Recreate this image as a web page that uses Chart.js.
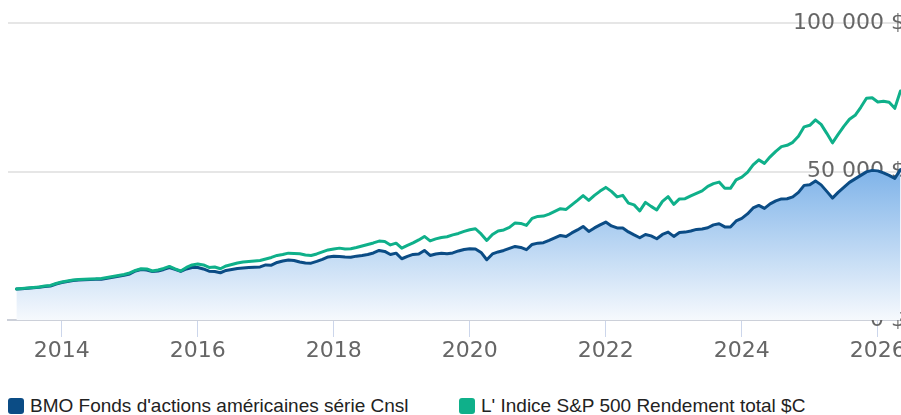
<!DOCTYPE html>
<html><head><meta charset="utf-8">
<script src="https://cdn.jsdelivr.net/npm/chart.js@4.4.1/dist/chart.umd.min.js"></script>
<style>
html,body{margin:0;padding:0;background:#fff;overflow:hidden;width:901px;height:415px;position:relative}
#wrap{position:absolute;left:0;top:0;width:905px;height:385px}
#legend{position:absolute;left:0;top:396px;width:901px;height:19px;font-family:"Liberation Sans",Arial,sans-serif;font-size:19px;color:#222}
.item{position:absolute;top:0;display:flex;align-items:center;white-space:nowrap;line-height:19px}
.sw{width:16px;height:16px;border-radius:3px;margin-right:6px;flex:none}
</style></head><body>
<div id="wrap"><canvas id="c"></canvas></div>
<div id="legend"></div>
<script>
// ---- data ----
const seriesNames = ["BMO Fonds d'actions américaines série Cnsl", "L' Indice S&P 500 Rendement total $C"];
const seriesColors = ["#0b4c85", "#0fb08a"];
const startYear = 2013, startMonth = 4; // month-end values, April 2013 .. April 2026
const bmoValues = [
10450,10550,10680,10850,10990,11290,11460,12130,12640,12980,
13310,13480,13550,13650,13680,13750,14090,14420,14760,15060,
15500,16510,17020,16850,16350,16510,17020,17690,17020,16350,
17190,17690,17690,17190,16450,16350,15910,16680,17020,17360,
17520,17690,17790,17860,18540,18470,19380,19880,20220,20050,
19550,19210,19140,19720,20390,21230,21500,21400,21230,21160,
21500,21740,22070,22580,23420,23090,22070,22510,20620,21400,
22070,22240,23420,21740,22240,22510,22310,22580,23250,23760,
23990,23930,22750,20290,22240,22920,23420,24100,24770,24430,
23660,25440,25880,26020,26790,27630,28480,28140,29320,30330,
31510,29830,31000,32020,32960,31680,31000,31000,29660,28650,
27700,28810,28310,27360,28810,29590,28140,29490,29590,29990,
30500,30670,31070,32020,32420,31340,31340,33360,34210,35720,
37740,38590,37580,39090,40100,40780,40840,41450,42970,45330,
45560,46840,45500,43310,41050,42970,44650,46340,47520,48700,
49880,50380,50210,49540,48700,47690,50620];
const spValues = [
10450,10620,10780,10950,11120,11460,11630,12300,12810,13140,
13480,13650,13720,13820,13880,13990,14320,14660,15000,15330,
15840,16680,17250,17190,16510,16850,17360,18030,17190,16510,
17690,18540,18870,18540,17690,17860,17250,18200,18700,19210,
19550,19720,19880,20050,20560,21060,21740,22070,22510,22410,
22310,21910,21740,22240,22920,23590,23930,24200,23930,23990,
24430,24940,25440,25950,26560,26460,25280,25880,24200,25110,
25950,26960,28140,26620,27300,27800,28040,28650,29150,29830,
30400,30730,28980,26790,28810,29990,30330,31170,32690,32520,
31850,34210,34880,34980,35660,36570,37470,37240,38760,40270,
41860,40270,41960,43410,44650,43310,41450,41960,39360,38760,
36730,39600,38250,37070,39940,41520,38920,40780,40840,41790,
42630,43470,44990,45900,46440,44320,44320,47180,48120,49710,
52240,53920,52740,54930,56790,58370,58810,59820,61840,65040,
65550,67400,65880,62850,59650,62510,65210,67570,68920,71610,
74650,74810,73400,73640,73300,71280,77110];
const xTickYears = [2014, 2016, 2018, 2020, 2022, 2024, 2026];
const yTickValues = [0, 50000, 100000];
const yTickLabels = ["0 $", "50 000 $", "100 000 $"];

// month-end dates as decimal years
const dates = bmoValues.map((_, i) => startYear + (startMonth + i) / 12);
const toPts = arr => arr.map((v, i) => ({x: dates[i], y: v}));

const axisFont = {family: "'DejaVu Sans', Verdana, sans-serif", size: 22};

new Chart(document.getElementById('c'), {
  type: 'line',
  data: {
    datasets: [
      {
        label: seriesNames[0], data: toPts(bmoValues), borderColor: seriesColors[0], borderWidth: 3,
        fill: 'origin', order: 1,
        backgroundColor: (ctx) => {
          const ca = ctx.chart.chartArea;
          if (!ca) return 'rgba(128,180,233,0.5)';
          const g = ctx.chart.ctx.createLinearGradient(0, ca.top + (ca.bottom - ca.top) * 0.5, 0, ca.bottom);
          g.addColorStop(0, 'rgb(128,180,233)');
          g.addColorStop(1, 'rgb(246,249,253)');
          return g;
        }
      },
      {
        label: seriesNames[1], data: toPts(spValues), borderColor: seriesColors[1], borderWidth: 3,
        fill: false, order: 0
      }
    ]
  },
  options: {
    responsive: true, maintainAspectRatio: false, animation: false,
    layout: {padding: {left: 8, top: 23, right: 0, bottom: 0}},
    plugins: {legend: {display: false}, tooltip: {enabled: false}},
    elements: {point: {radius: 0}, line: {tension: 0, borderJoinStyle: 'round', borderCapStyle: 'round'}},
    scales: {
      x: {
        type: 'linear', min: 2013.21, max: 2026.40,
        afterBuildTicks: s => { s.ticks = xTickYears.map(v => ({value: v})); },
        afterFit: s => { s.height = 65; s.paddingLeft = 0; s.paddingRight = 0; },
        grid: {drawOnChartArea: false, drawTicks: true, tickLength: 17, tickColor: '#ccd6eb', tickWidth: 1},
        border: {display: true, color: '#ccd0d9', width: 2},
        ticks: {padding: 1, color: '#666', font: axisFont, maxRotation: 0, autoSkip: false, callback: v => String(v)}
      },
      y: {
        position: 'right', min: 0, max: 100000,
        afterBuildTicks: s => { s.ticks = yTickValues.map(v => ({value: v})); },
        afterFit: s => { s.width = 0; s.paddingTop = 0; s.paddingBottom = 0; },
        grid: {color: '#e6e6e6', lineWidth: 2, drawTicks: false},
        border: {display: false},
        ticks: {mirror: true, padding: 0, color: '#666', font: axisFont,
          callback: v => yTickLabels[yTickValues.indexOf(v)]}
      }
    }
  }
});

// legend
const lg = document.getElementById('legend');
const lefts = [8, 459];
seriesNames.forEach((n, i) => {
  const d = document.createElement('div');
  d.className = 'item'; d.style.left = lefts[i] + 'px';
  d.innerHTML = '<span class="sw" style="background:' + seriesColors[i] + '"></span><span></span>';
  d.lastChild.textContent = n;
  lg.appendChild(d);
});
</script>
</body></html>
